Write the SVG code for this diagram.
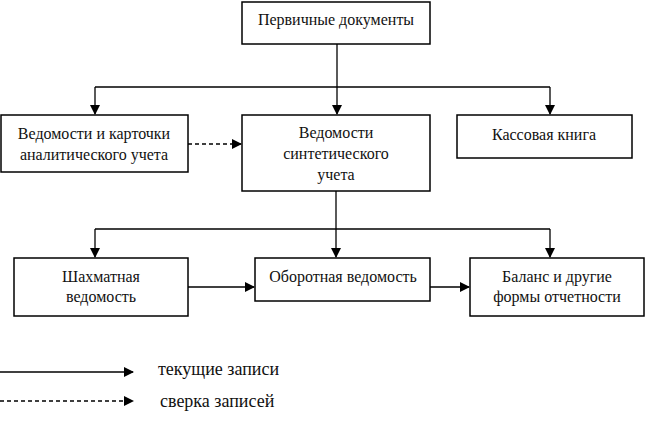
<svg xmlns="http://www.w3.org/2000/svg" width="645" height="421" viewBox="0 0 645 421">
<style>
.box{fill:#fff;stroke:#000;stroke-width:1.5}
.t{font-family:"Liberation Serif","Times New Roman",serif;font-size:16px;fill:#111;text-anchor:middle}
.tl{font-family:"Liberation Serif","Times New Roman",serif;font-size:18px;fill:#111}
.c{fill:none;stroke:#000;stroke-width:1.3}
.d{stroke-dasharray:4,3}
</style>
<defs>
<marker id="ah" markerWidth="10" markerHeight="10" refX="9" refY="5" orient="auto" markerUnits="userSpaceOnUse">
<path d="M0,0 L10,5 L0,10 Z" fill="#000"/>
</marker>
</defs>
<rect width="645" height="421" fill="#fff"/>
<g id="connectors">
<path class="c" d="M337,44 V87"/>
<path class="c" d="M95,87 H550"/>
<path class="c" d="M95,87 V114" marker-end="url(#ah)"/>
<path class="c" d="M337,87 V114" marker-end="url(#ah)"/>
<path class="c" d="M550,87 V114" marker-end="url(#ah)"/>
<path class="c d" d="M188,144 H241" marker-end="url(#ah)"/>
<path class="c" d="M336,191 V229"/>
<path class="c" d="M95,229 H550"/>
<path class="c" d="M95,229 V257" marker-end="url(#ah)"/>
<path class="c" d="M336,229 V257" marker-end="url(#ah)"/>
<path class="c" d="M550,229 V257" marker-end="url(#ah)"/>
<path class="c" d="M188,287 H254" marker-end="url(#ah)"/>
<path class="c" d="M430,287 H469" marker-end="url(#ah)"/>
<path class="c" d="M0,372 H133" marker-end="url(#ah)"/>
<path class="c d" d="M0,401 H133" marker-end="url(#ah)"/>
</g>
<g id="n1"><rect class="box" x="242" y="2" width="188" height="42"/><text class="t" x="336" y="25">Первичные документы</text></g>
<g id="n2"><rect class="box" x="1" y="115" width="187" height="57"/><text class="t" x="94" y="139">Ведомости и карточки</text><text class="t" x="94" y="160">аналитического учета</text></g>
<g id="n3"><rect class="box" x="242" y="115" width="188" height="76"/><text class="t" x="336" y="138">Ведомости</text><text class="t" x="336" y="159">синтетического</text><text class="t" x="336" y="180">учета</text></g>
<g id="n4"><rect class="box" x="457" y="115" width="175" height="43"/><text class="t" x="544" y="140">Кассовая книга</text></g>
<g id="n5"><rect class="box" x="14" y="258" width="174" height="58"/><text class="t" x="101" y="282">Шахматная</text><text class="t" x="101" y="302">ведомость</text></g>
<g id="n6"><rect class="box" x="255" y="258" width="175" height="43"/><text class="t" x="343" y="282">Оборотная ведомость</text></g>
<g id="n7"><rect class="box" x="470" y="258" width="174" height="58"/><text class="t" x="557" y="282">Баланс и другие</text><text class="t" x="557" y="302">формы отчетности</text></g>
<g id="legend"><text class="tl" x="158" y="375">текущие записи</text><text class="tl" x="160" y="407">сверка записей</text></g>
</svg>
